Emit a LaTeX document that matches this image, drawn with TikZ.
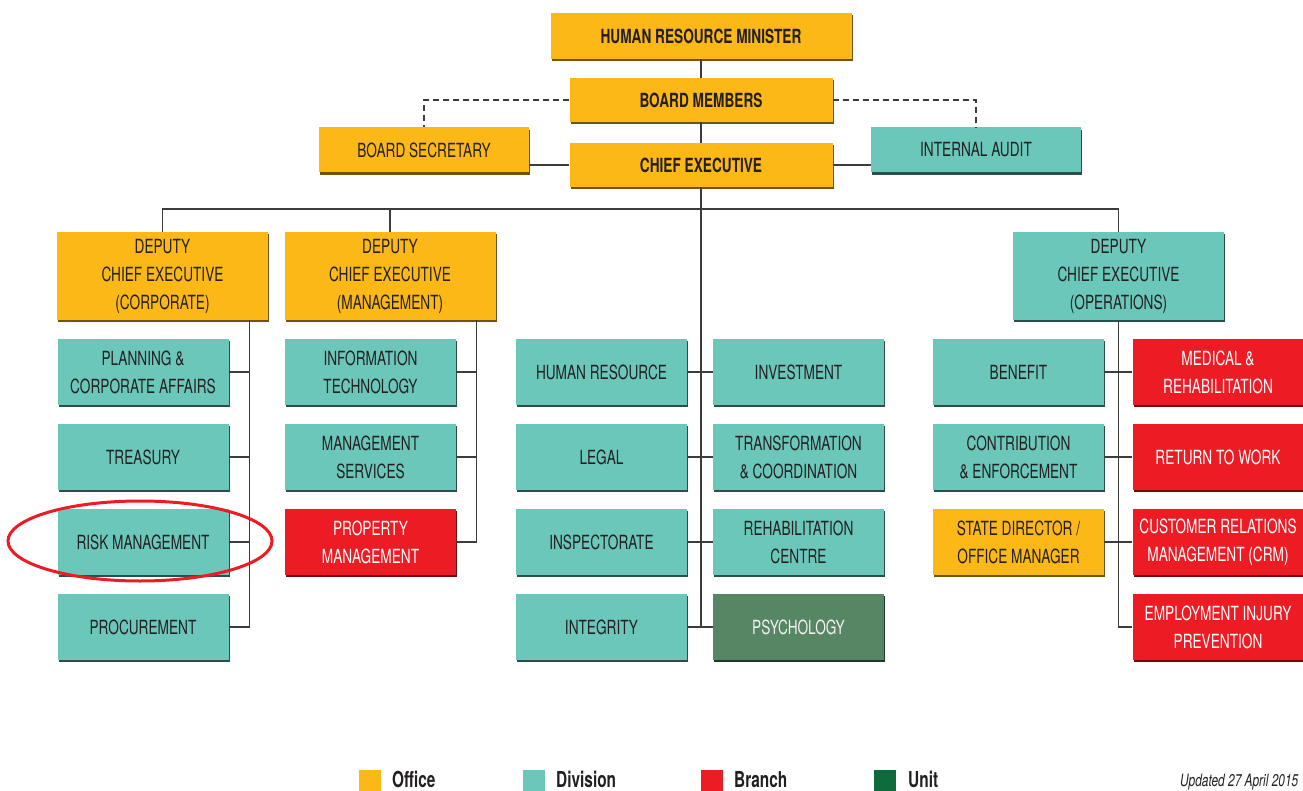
\documentclass[tikz,border=0pt]{standalone}
\usepackage{fontspec}
\setmainfont{TeX Gyre Heros}[FakeStretch=0.7]
\usetikzlibrary{positioning, shapes.geometric, shadows}
\definecolor{hroffice}{HTML}{FBB817}
\definecolor{hrdivision}{HTML}{6CC7BB}
\definecolor{hrbranch}{HTML}{ED1C24}
\definecolor{hrunit}{HTML}{0E6B3B}
\definecolor{hrpsych}{HTML}{568663}
\definecolor{hrink}{HTML}{231F20}
\definecolor{hrline}{HTML}{3C3C3C}

\tikzset{
  orgbox/.style={rectangle, inner sep=0pt, align=center, text=hrink,
    font=\fontsize{19.5}{28}\selectfont},
  office/.style={orgbox, fill=hroffice,
    general shadow={fill=hroffice!45!black, shadow xshift=1.2pt, shadow yshift=-2.4pt}},
  division/.style={orgbox, fill=hrdivision,
    general shadow={fill=hrdivision!40!black, shadow xshift=1.2pt, shadow yshift=-2.4pt}},
  branch/.style={orgbox, fill=hrbranch, text=white,
    general shadow={fill=hrbranch!45!black, shadow xshift=1.2pt, shadow yshift=-2.4pt}},
  unitbox/.style={orgbox, fill=hrpsych, text=white!95!black,
    general shadow={fill=hrpsych!40!black, shadow xshift=1.2pt, shadow yshift=-2.4pt}},
  headbox/.style={font=\fontsize{19.5}{28}\selectfont\bfseries},
  small/.style={minimum width=171pt, minimum height=66pt},
  deputy/.style={minimum width=211pt, minimum height=88pt},
  link/.style={draw=hrline, line width=1.3pt},
  dotlink/.style={draw=hrline, line width=1.3pt, dash pattern=on 6pt off 4pt},
  key/.style={rectangle, minimum size=22pt, inner sep=0pt},
  keytext/.style={anchor=base west, inner sep=0pt, text=hrink, font=\fontsize{22}{24}\selectfont\bfseries}
}

\begin{document}
\begin{tikzpicture}[x=1pt, y=-1pt]
  \path[fill=white, use as bounding box] (0,0) rectangle (1303,791);

  % Top of the chart
  \node[office, headbox, minimum width=301pt, minimum height=46pt] (hrm) at (701,36) {HUMAN RESOURCE MINISTER};
  \node[office, headbox, minimum width=263pt, minimum height=44pt] (bm) at (701,100) {BOARD MEMBERS};
  \node[office, headbox, minimum width=263pt, minimum height=44pt] (ce) at (701,165) {CHIEF EXECUTIVE};
  \node[office, minimum width=210pt, minimum height=45pt] (bsec) at (424,150) {BOARD SECRETARY};
  \node[division, minimum width=210pt, minimum height=45pt] (audit) at (976,150) {INTERNAL AUDIT};

  % Deputy chief executives
  \node[office, deputy] (dcorp) at (162.5,276) {DEPUTY\\CHIEF EXECUTIVE\\(CORPORATE)};
  \node[office, deputy] (dmgmt) at (390,276) {DEPUTY\\CHIEF EXECUTIVE\\(MANAGEMENT)};
  \node[division, deputy] (dops) at (1118.5,276) {DEPUTY\\CHIEF EXECUTIVE\\(OPERATIONS)};

  % Corporate column
  \node[division, small] (plan) at (143,372) {PLANNING \&\\CORPORATE AFFAIRS};
  \node[division, small] (treas) at (143,457) {TREASURY};
  \node[division, small] (risk) at (143,542) {RISK MANAGEMENT};
  \node[division, small] (proc) at (143,627) {PROCUREMENT};

  % Management column
  \node[division, small] (it) at (370.5,372) {INFORMATION\\TECHNOLOGY};
  \node[division, small] (msvc) at (370.5,457) {MANAGEMENT\\SERVICES};
  \node[branch, small] (prop) at (370.5,542) {PROPERTY\\MANAGEMENT};

  % Under the chief executive
  \node[division, small] (hr) at (601.5,372) {HUMAN RESOURCE};
  \node[division, small] (legal) at (601.5,457) {LEGAL};
  \node[division, small] (insp) at (601.5,542) {INSPECTORATE};
  \node[division, small] (integ) at (601.5,627) {INTEGRITY};
  \node[division, small] (inv) at (798.5,372) {INVESTMENT};
  \node[division, small] (trans) at (798.5,457) {TRANSFORMATION\\\& COORDINATION};
  \node[division, small] (rehab) at (798.5,542) {REHABILITATION\\CENTRE};
  \node[unitbox, small] (psych) at (798.5,627) {PSYCHOLOGY};

  % Operations column
  \node[division, small] (ben) at (1018.5,372) {BENEFIT};
  \node[division, small] (contr) at (1018.5,457) {CONTRIBUTION\\\& ENFORCEMENT};
  \node[office, small] (state) at (1018.5,542) {STATE DIRECTOR /\\OFFICE MANAGER};
  \node[branch, small] (med) at (1218,372) {MEDICAL \&\\REHABILITATION};
  \node[branch, small] (rtw) at (1218,457) {RETURN TO WORK};
  \node[branch, small] (crm) at (1218,542) {CUSTOMER RELATIONS\\MANAGEMENT (CRM)};
  \node[branch, small] (emp) at (1218,627) {EMPLOYMENT INJURY\\PREVENTION};

  % Top links
  \draw[link] (hrm) -- (bm);
  \draw[link] (bm) -- (ce);
  \draw[dotlink] (bm.west) -| (bsec.north);
  \draw[dotlink] (bm.east) -| (audit.north);
  \draw[link] (ce.west) -- (ce.west -| bsec.east);
  \draw[link] (ce.east) -- (ce.east -| audit.west);

  % Bus to the deputies
  \coordinate (bus) at (701,209);
  \draw[link] (dcorp.north) |- (bus) -| (dops.north);
  \draw[link] (dmgmt.north) -- (dmgmt.north |- bus);
  \draw[link] (ce.south) -- (bus) -- (bus |- integ.east);

  % Spines of the columns
  \coordinate (lsp) at ([xshift=-19pt]dcorp.south east);
  \coordinate (msp) at ([xshift=-19pt]dmgmt.south east);
  \draw[link] (lsp) |- (proc.east);
  \foreach \n in {plan,treas,risk}
    \draw[link] (\n.east) -- (\n.east -| lsp);
  \draw[link] (msp) |- (prop.east);
  \foreach \n in {it,msvc}
    \draw[link] (\n.east) -- (\n.east -| msp);
  \foreach \a/\b in {hr/inv,legal/trans,insp/rehab,integ/psych}
    \draw[link] (\a.east) -- (\b.west);
  \draw[link] (dops.south) |- (emp.west);
  \foreach \a/\b in {ben/med,contr/rtw,state/crm}
    \draw[link] (\a.east) -- (\b.west);

  % Highlight ring
  \node[ellipse, draw=hrbranch, line width=3pt, minimum width=264pt, minimum height=80pt] (ring) at (140,541) {};

  % Legend
  \node[key, fill=hroffice] (kOffice) at (370,781) {};
  \node[keytext] (tOffice) at (392,787) {Office};
  \node[key, fill=hrdivision] (kDivision) at (534,781) {};
  \node[keytext] (tDivision) at (556,787) {Division};
  \node[key, fill=hrbranch] (kBranch) at (712,781) {};
  \node[keytext] (tBranch) at (734,787) {Branch};
  \node[key, fill=hrunit] (kUnit) at (885,781) {};
  \node[keytext] (tUnit) at (908,787) {Unit};
  \node[anchor=base west, inner sep=0pt, text=hrink, font=\fontsize{17}{20}\selectfont\itshape] (upd) at (1180,786) {Updated 27 April 2015};
\end{tikzpicture}
\end{document}
